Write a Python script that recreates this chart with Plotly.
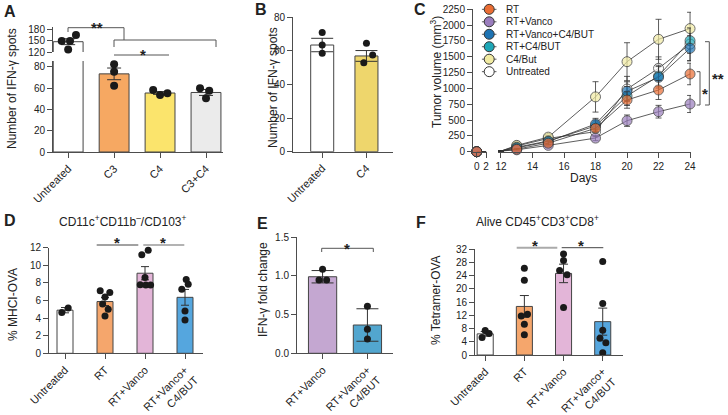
import plotly.graph_objects as go

# ---------------- data ----------------
A_CATS = ["Untreated", "C3", "C4", "C3+C4"]
A_MEAN = [148, 73.5, 55.5, 56]
A_ERR = [8, 5.5, 1.3, 2.8]
A_PTS = [[150, 150, 166, 127], [82.5, 75.5, 62.4], [58.4, 53.6, 55.2], [60, 57.7, 50.5]]
A_YT_LOW = [0, 20, 40, 60, 80]
A_YT_UP = [120, 150, 180]

B_CATS = ["Untreated", "C4"]
B_MEAN = [63.5, 57]
B_ERR = [4, 3.2]
B_PTS = [[71, 63.5, 58.6], [64.5, 57.5, 53]]
B_YT = [0, 20, 40, 60, 80]

C_NAMES = ["RT", "RT+Vanco", "RT+Vanco+C4/BUT", "RT+C4/BUT", "C4/But", "Untreated"]
C_DAYS_EARLY = [0, 2]
C_EARLY = [0, 0]
C_DAYS = [12, 13, 15, 18, 20, 22, 24]
C_VALS = {
    "RT":              [10, 40, 135, 370, 817, 975, 1228],
    "RT+Vanco":        [10, 30, 100, 215, 490, 632, 754],
    "RT+Vanco+C4/BUT": [10, 60, 160, 437, 955, 1175, 1634],
    "RT+C4/BUT":       [10, 70, 170, 406, 880, 1196, 1754],
    "C4/But":          [10, 100, 230, 866, 1422, 1776, 1945],
    "Untreated":       [10, 90, 210, 316, 990, 1318, 1700],
}
C_ERRS = {
    "RT":              [0, 10, 25, 60, 130, 150, 170],
    "RT+Vanco":        [0, 8, 20, 40, 90, 100, 135],
    "RT+Vanco+C4/BUT": [0, 10, 30, 90, 150, 170, 200],
    "RT+C4/BUT":       [0, 10, 30, 90, 150, 170, 200],
    "C4/But":          [0, 10, 30, 240, 300, 316, 258],
    "Untreated":       [0, 15, 30, 80, 200, 180, 260],
}
C_YT = [0, 250, 500, 750, 1000, 1250, 1500, 1750, 2000, 2250]
C_XT_EARLY = [0, 2]
C_XT = [12, 14, 16, 18, 20, 22, 24]

D_CATS = ["Untreated", "RT", "RT+Vanco", "RT+Vanco+<br>C4/BUT"]
D_MEAN = [4.9, 5.88, 9.1, 6.36]
D_ERR = [0.3, 0.45, 0.75, 0.9]
D_PTS = [[4.65, 5.15], [7.1, 6.9, 6.4, 5.6, 5.0, 4.24],
         [11.2, 11.7, 8.6, 7.8, 7.75, 7.75], [8.4, 7.84, 7.27, 4.8, 3.78]]
D_YT = [0, 2, 4, 6, 8, 10, 12]

E_CATS = ["RT+Vanco", "RT+Vanco+<br>C4/BUT"]
E_MEAN = [0.99, 0.366]
E_ERR = [0.08, 0.21]
E_PTS = [[1.087, 0.948, 0.948], [0.61, 0.31, 0.185]]
E_YT = [0.0, 0.5, 1.0, 1.5]

F_CATS = ["Untreated", "RT", "RT+Vanco", "RT+Vanco+<br>C4/BUT"]
F_MEAN = [6.4, 14.7, 24.7, 10.1]
F_ERR = [0.7, 3.3, 2.8, 4.1]
F_PTS = [[5.3, 7.4, 6.5], [26.3, 22.6, 12.3, 11.8, 9.3, 6.1],
         [30.6, 28.6, 25.6, 24.3, 14.4], [28.3, 15.6, 7.5, 5.05, 3.7, 0.7]]
F_YT = [0, 4, 8, 12, 16, 20, 24, 28, 32]

# ---------------- styling / layout helpers ----------------
A_JIT = [[-0.14, 0.04, 0.17, 0.0], [0, 0, 0], [-0.15, 0, 0.16], [-0.13, 0.07, 0]]
B_JIT = [[0, 0, 0], [0, 0.14, -0.06]]
D_JIT = [[-0.08, 0.08], [-0.12, 0.12, 0, -0.06, 0.08, 0],
         [-0.08, 0.08, 0, -0.12, 0.02, 0.14], [0.03, 0.08, -0.08, 0, 0]]
E_JIT = [[0, -0.08, 0.09], [0, 0, 0]]
F_JIT = [[-0.08, 0, 0.1], [0, 0, 0.08, -0.08, 0, 0],
         [0, 0, -0.1, 0.09, 0], [0, 0, 0, -0.07, 0.08, 0]]

A_COL = ["#ffffff", "#f6a862", "#fbe46c", "#ebebeb"]
B_COL = ["#ffffff", "#eed66c"]
C_COL = {"RT": "#ea6d33", "RT+Vanco": "#9a7dbd", "RT+Vanco+C4/BUT": "#1d73b3",
         "RT+C4/BUT": "#1ea7b7", "C4/But": "#f1eba2", "Untreated": "#ffffff"}
D_COL = ["#ffffff", "#f5a66c", "#e3b5d8", "#55a6de"]
E_COL = ["#c4a7d1", "#52a6cf"]
F_COL = D_COL

W, H = 728, 415
FONT = "Liberation Sans, Arial, Helvetica, sans-serif"
AX = "#4d4d4d"
TXT = "#222222"


def fx(px):
    return px / W


def fy(py):
    return 1 - py / H


fig = go.Figure()


def add_bars(xa, ya, xs, means, errs, colors, width, capw):
    fig.add_trace(go.Bar(
        x=xs, y=means, width=width,
        marker=dict(color=colors, line=dict(color="#444444", width=1)),
        error_y=dict(type="data", array=errs, color="#333333", thickness=1, width=capw),
        xaxis=xa, yaxis=ya, showlegend=False, hoverinfo="skip"))


def add_pts(xa, ya, idx, pts, jit, size=7):
    xs, ys = [], []
    for i, p, j in zip(idx, pts, jit):
        for v, o in zip(p, j):
            xs.append(i + o)
            ys.append(v)
    fig.add_trace(go.Scatter(x=xs, y=ys, mode="markers",
                             marker=dict(size=size, color="#1a1a1a"),
                             xaxis=xa, yaxis=ya, showlegend=False,
                             cliponaxis=False, hoverinfo="skip"))


# ---- A ----
n = len(A_CATS)
idx = list(range(n))
add_bars("x", "y", idx, A_MEAN, [None] + A_ERR[1:], A_COL, 0.65, 7)
add_bars("x", "y2", [0], A_MEAN[:1], A_ERR[:1], A_COL[:1], 0.65, 7)
add_pts("x", "y2", [0], A_PTS[:1], A_JIT[:1], 8)
add_pts("x", "y", idx[1:], A_PTS[1:], A_JIT[1:], 8)

# ---- B ----
add_bars("x2", "y3", list(range(len(B_CATS))), B_MEAN, B_ERR, B_COL, 0.52, 11)
add_pts("x2", "y3", list(range(len(B_CATS))), B_PTS, B_JIT, 7)

# ---- C ----
for name in reversed(C_NAMES):
    col = C_COL[name]
    fig.add_trace(go.Scatter(
        x=C_DAYS_EARLY, y=C_EARLY, mode="lines+markers",
        line=dict(color="#333333", width=0.8),
        marker=dict(size=[10, 0], color=col, line=dict(color="#333333", width=[1, 0])),
        xaxis="x3", yaxis="y4", showlegend=False, cliponaxis=False, hoverinfo="skip"))
    vals = C_VALS[name]
    fig.add_trace(go.Scatter(
        x=C_DAYS, y=vals, mode="lines+markers",
        line=dict(color="#333333", width=0.8),
        marker=dict(size=[0] + [10] * (len(vals) - 1), color=col,
                    line=dict(color="#333333", width=[0] + [1] * (len(vals) - 1))),
        error_y=dict(type="data", array=C_ERRS[name], color="#333333", thickness=0.8, width=3),
        xaxis="x4", yaxis="y4", showlegend=False, cliponaxis=False, hoverinfo="skip"))

# legend of C (own small hidden axes)
for i, name in enumerate(C_NAMES):
    fig.add_trace(go.Scatter(x=[0, 1], y=[i, i], mode="lines",
                             line=dict(color="#333333", width=0.8),
                             xaxis="x8", yaxis="y8", showlegend=False, hoverinfo="skip"))
    fig.add_trace(go.Scatter(x=[0.5], y=[i], mode="markers",
                             marker=dict(size=10, color=C_COL[name], line=dict(color="#333333", width=1)),
                             xaxis="x8", yaxis="y8", showlegend=False, cliponaxis=False, hoverinfo="skip"))

# ---- D ----
add_bars("x5", "y5", list(range(len(D_CATS))), D_MEAN, D_ERR, D_COL, 0.4, 4)
add_pts("x5", "y5", list(range(len(D_CATS))), D_PTS, D_JIT, 7)

# ---- E ----
add_bars("x6", "y6", list(range(len(E_CATS))), E_MEAN, E_ERR, E_COL, 0.63, 11)
add_pts("x6", "y6", list(range(len(E_CATS))), E_PTS, E_JIT, 7)

# ---- F ----
add_bars("x7", "y7", list(range(len(F_CATS))), F_MEAN, F_ERR, F_COL, 0.41, 4.5)
add_pts("x7", "y7", list(range(len(F_CATS))), F_PTS, F_JIT, 7)


# ---------------- axes ----------------
def xcfg(p0, p1, rng, tv, tt, anchor, angle=-45, fs=11):
    return dict(domain=[fx(p0), fx(p1)], range=rng, anchor=anchor, automargin=False,
                tickmode="array", tickvals=tv, ticktext=tt, tickangle=angle,
                tickfont=dict(size=fs, color=TXT, family=FONT),
                showline=True, linecolor=AX, linewidth=1,
                ticks="outside", ticklen=5, tickcolor=AX, tickwidth=1,
                showgrid=False, zeroline=False, fixedrange=True)


def ycfg(pb, pt, rng, tv, anchor, tt=None):
    return dict(domain=[fy(pb), fy(pt)], range=rng, anchor=anchor, automargin=False,
                tickmode="array", tickvals=tv,
                ticktext=tt if tt is not None else [str(v) for v in tv],
                tickfont=dict(size=10, color=TXT, family=FONT),
                showline=True, linecolor=AX, linewidth=1,
                ticks="outside", ticklen=5, tickcolor=AX, tickwidth=1,
                showgrid=False, zeroline=False, fixedrange=True)


layout = dict(
    template="none",
    width=W, height=H, margin=dict(l=0, r=0, t=0, b=0, pad=0, autoexpand=False),
    paper_bgcolor="white", plot_bgcolor="white",
    font=dict(family=FONT, color=TXT), showlegend=False,
    bargap=0,
)
layout["xaxis"] = xcfg(53, 223, [-0.33, 3.37], list(range(len(A_CATS))), A_CATS, "y")
layout["yaxis"] = ycfg(152, 61, [0, 85.6], A_YT_LOW, "x")
layout["yaxis2"] = ycfg(52, 27, [120, 188], A_YT_UP, "x")
layout["xaxis2"] = xcfg(293, 393, [-0.66, 1.6], list(range(len(B_CATS))), B_CATS, "y3")
layout["yaxis3"] = ycfg(151.7, 17.3, [0, 80], B_YT, "x2")
layout["xaxis3"] = xcfg(473, 487, [-0.8, 2.2], C_XT_EARLY, [str(v) for v in C_XT_EARLY], "y4", angle=0, fs=10)
layout["xaxis4"] = xcfg(498, 691, [11.81, 24.06], C_XT, [str(v) for v in C_XT], "y4", angle=0, fs=10)
layout["yaxis4"] = ycfg(151.7, 9.3, [0, 2250], C_YT, "x3")
layout["xaxis5"] = xcfg(49, 203, [-0.4, 3.45], list(range(len(D_CATS))), D_CATS, "y5")
layout["yaxis5"] = ycfg(353.3, 247.7, [0, 12], D_YT, "x5")
layout["xaxis6"] = xcfg(297, 393, [-0.57, 1.57], list(range(len(E_CATS))), E_CATS, "y6")
layout["yaxis6"] = ycfg(353.3, 237.3, [0, 1.5], E_YT, "x6", tt=["%.1f" % v for v in E_YT])
layout["xaxis7"] = xcfg(475, 622.7, [-0.26, 3.51], list(range(len(F_CATS))), F_CATS, "y7")
layout["yaxis7"] = ycfg(355, 249.3, [0, 32], F_YT, "x7")
layout["xaxis8"] = dict(domain=[fx(481.7), fx(496.7)], range=[0, 1], anchor="y8", visible=False,
                        fixedrange=True, automargin=False)
layout["yaxis8"] = dict(domain=[fy(77.9), fy(3.1)], range=[len(C_NAMES) - 0.5, -0.5], anchor="x8",
                        visible=False, fixedrange=True, automargin=False)

fig.update_layout(**layout)

# ---------------- annotations & shapes ----------------
ann = []
shapes = []


def text(px, py, s, size=12, bold=False, angle=0, xanchor="center", yanchor="middle"):
    ann.append(dict(x=fx(px), y=fy(py), xref="paper", yref="paper", text=("<b>%s</b>" % s) if bold else s,
                    showarrow=False, textangle=angle, xanchor=xanchor, yanchor=yanchor,
                    borderpad=0, borderwidth=0,
                    font=dict(size=size, color=TXT, family=FONT)))


def seg(x0, y0, x1, y1, color="#555555", width=1):
    shapes.append(dict(type="line", xref="paper", yref="paper",
                       x0=fx(x0), y0=fy(y0), x1=fx(x1), y1=fy(y1),
                       line=dict(color=color, width=width)))


def star(px, py, s, xanchor="center"):
    text(px, py + 4, s, size=15, bold=True, xanchor=xanchor)


# panel letters
for L, px, py in [("A", 10, 11), ("B", 261, 10), ("C", 420, 10), ("D", 10, 220), ("E", 262, 223), ("F", 421, 222)]:
    text(px, py, L, size=16, bold=True)

# axis titles
text(12, 89, "Number of IFN-γ spots", angle=-90)
text(273, 88, "Number of IFN-γ spots", angle=-90)
text(436, 72, "Tumor volume (mm<sup>3</sup>)", angle=-90)
text(583, 178, "Days")
text(13, 305, "% MHCI-OVA", angle=-90)
text(263, 290, "IFN-γ fold change", angle=-90)
text(436, 300, "% Tetramer-OVA", angle=-90)
text(123, 221, "CD11c<sup>+</sup>CD11b<sup>–</sup>/CD103<sup>+</sup>")
text(537, 221, "Alive CD45<sup>+</sup>CD3<sup>+</sup>CD8<sup>+</sup>")

# legend texts of C
for i, name in enumerate(C_NAMES):
    ann.append(dict(x=fx(504), y=i, xref="paper", yref="y8", text=name, showarrow=False,
                    xanchor="left", yanchor="middle", font=dict(size=10, color=TXT, family=FONT)))

# significance A
seg(68, 27.7, 124, 27.7)
seg(68, 27.7, 68, 32)
seg(124, 27.7, 124, 40)
seg(114, 40, 216, 40)
seg(114, 40, 114, 47)
seg(216, 40, 216, 47)
star(97, 23, "**")
seg(114, 55, 169, 55)
star(143, 50, "*")

# significance C
seg(700, 71.7, 700, 105)
seg(696.7, 71.7, 700, 71.7)
seg(696.7, 105, 700, 105)
star(704.5, 89, "*")
seg(709.3, 41.7, 709.3, 105)
seg(705, 41.7, 709.3, 41.7)
seg(705, 105, 709.3, 105)
star(718, 74, "**")

# significance D
seg(96.7, 245, 138.3, 245, "#444444")
seg(143.3, 245, 184.3, 245, "#9a9a9a", 1.5)
star(116.7, 238.3, "*")
star(163.3, 238.3, "*")

# significance E
seg(321.7, 248.3, 373.3, 248.3)
seg(321.7, 248.3, 321.7, 252)
seg(373.3, 248.3, 373.3, 252)
star(346.7, 244, "*")

# significance F
seg(516.7, 247.7, 557.3, 247.7, "#aaaaaa", 2)
seg(561.7, 247.7, 603.3, 247.7, "#444444")
star(535, 241.7, "*")
star(580.7, 241.7, "*")

fig.update_layout(annotations=ann, shapes=shapes)
fig.write_html("out.html",
               config={"displayModeBar": False, "staticPlot": True},
               post_script="document.body.style.margin='0px';document.body.style.overflow='hidden';")
